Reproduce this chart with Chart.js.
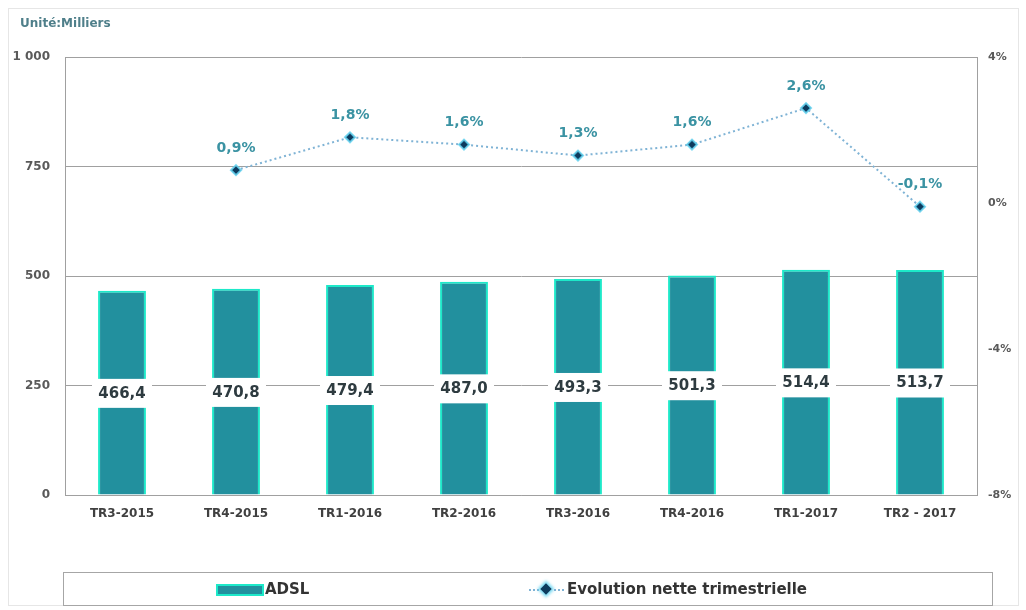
<!DOCTYPE html>
<html>
<head>
<meta charset="utf-8">
<script src="https://cdn.jsdelivr.net/npm/chart.js@4/dist/chart.umd.min.js"></script>
<style>
  html, body { margin: 0; padding: 0; background: #fff; }
  #wrap { position: relative; width: 1026px; height: 610px; }
  #frame { position: absolute; left: 8px; top: 8px; width: 1011px; height: 598px; border: 1px solid #e6e6e6; box-sizing: border-box; pointer-events: none; }
  #legend { position: absolute; left: 63px; top: 572px; width: 930px; height: 34px; border: 1px solid #a6a6a6; box-sizing: border-box; font-family: "DejaVu Sans", sans-serif; font-weight: bold; font-size: 15px; color: #333; }
  .item { position: absolute; top: 0; height: 32px; line-height: 32px; white-space: nowrap; }
  .sw { position: absolute; left: 152px; top: 11px; width: 44px; height: 8px; background: #22909e; border: 2px solid #1de9c9; }
  .mk { position: absolute; left: 478px; top: 12px; width: 8px; height: 8px; background: #0d3b5e; transform: rotate(45deg); box-shadow: 0 0 3px 2px rgba(100,210,240,0.85); }
  .ln { position: absolute; top: 16px; width: 10px; border-top: 2px dotted #7fb3d5; }
</style>
</head>
<body>
<div id="wrap">
  <canvas id="c" width="1026" height="610"></canvas>
  <div id="frame"></div>
  <div id="legend">
    <div class="sw"></div>
    <div class="item" style="left:201px">ADSL</div>
    <div class="ln" style="left:465px"></div>
    <div class="mk"></div>
    <div class="ln" style="left:490px"></div>
    <div class="item" style="left:503px">Evolution nette trimestrielle</div>
  </div>
</div>
<script>
const categories = ['TR3-2015', 'TR4-2015', 'TR1-2016', 'TR2-2016', 'TR3-2016', 'TR4-2016', 'TR1-2017', 'TR2 - 2017'];
const adslValues = [466.4, 470.8, 479.4, 487.0, 493.3, 501.3, 514.4, 513.7];
const evolutionValues = [null, 0.9, 1.8, 1.6, 1.3, 1.6, 2.6, -0.1];
const leftTickLabels = { 0: '0', 250: '250', 500: '500', 750: '750', 1000: '1 000' };
const rightTickLabels = { '-8': '-8%', '-4': '-4%', '0': '0%', '4': '4%' };
const titleText = 'Unité:Milliers';

const fmt1 = v => v.toFixed(1).replace('.', ',');

const labelPlugin = {
  id: 'valueLabels',
  afterDraw(chart) {
    const ctx = chart.ctx;
    ctx.save();
    ctx.font = 'bold 12px "DejaVu Sans"';
    ctx.fillStyle = '#4f7f8a';
    ctx.textAlign = 'left';
    ctx.textBaseline = 'middle';
    ctx.fillText(titleText, 20, 24);
    ctx.restore();
  },
  afterDatasetsDraw(chart) {
    const ctx = chart.ctx;
    const yScale = chart.scales.y;
    const barMeta = chart.getDatasetMeta(1);
    ctx.save();
    ctx.textAlign = 'center';
    ctx.textBaseline = 'middle';
    ctx.font = 'bold 15px "DejaVu Sans"';
    barMeta.data.forEach((el, i) => {
      const v = adslValues[i];
      const y = yScale.getPixelForValue(v / 2);
      ctx.fillStyle = '#ffffff';
      ctx.fillRect(el.x - 30, y - 14, 60, 29);
      ctx.fillStyle = '#2e3b40';
      ctx.fillText(fmt1(v), el.x, y + 1);
    });
    const lineMeta = chart.getDatasetMeta(0);
    ctx.font = 'bold 14px "DejaVu Sans"';
    ctx.fillStyle = '#3b93a3';
    lineMeta.data.forEach((el, i) => {
      const v = evolutionValues[i];
      if (v === null || v === undefined) return;
      ctx.fillText(fmt1(v) + '%', el.x, el.y - 22);
    });
    ctx.restore();
  }
};

new Chart(document.getElementById('c'), {
  data: {
    labels: categories,
    datasets: [
      {
        type: 'line',
        label: 'Evolution nette trimestrielle',
        data: evolutionValues,
        yAxisID: 'y2',
        order: 0,
        borderColor: '#7fb3d5',
        borderWidth: 2,
        borderDash: [2, 3],
        pointStyle: 'rectRot',
        pointRadius: 5,
        pointBackgroundColor: '#0d3b5e',
        pointBorderColor: 'rgba(100,210,240,0.85)',
        pointBorderWidth: 2,
        spanGaps: false,
        fill: false,
        tension: 0
      },
      {
        type: 'bar',
        label: 'ADSL',
        data: adslValues,
        yAxisID: 'y',
        order: 1,
        backgroundColor: '#22909e',
        borderColor: '#1de9c9',
        borderWidth: { top: 2, left: 2, right: 2, bottom: 0 },
        borderSkipped: 'bottom',
        categoryPercentage: 1,
        barPercentage: 0.42
      }
    ]
  },
  options: {
    responsive: false,
    animation: false,
    layout: { padding: { left: 4, right: 0, top: 57, bottom: 75 } },
    plugins: {
      legend: { display: false },
      tooltip: { enabled: false },
      title: { display: false }
    },
    scales: {
      x: {
        grid: { display: false, drawTicks: false },
        border: { display: true, color: '#a0a0a0' },
        ticks: { color: '#404040', padding: 12, font: { family: 'DejaVu Sans', size: 12, weight: 'bold' }, maxRotation: 0, autoSkip: false },
        afterFit(s) { s.height = 40; }
      },
      y: {
        position: 'left',
        min: 0, max: 1000,
        ticks: {
          stepSize: 250,
          padding: 15,
          color: '#5a5a5a',
          font: { family: 'DejaVu Sans', size: 12, weight: 'bold' },
          callback: v => leftTickLabels[v] !== undefined ? leftTickLabels[v] : ''
        },
        grid: { color: '#a0a0a0', lineWidth: 1, drawTicks: false },
        border: { display: true, color: '#a0a0a0' },
        afterFit(s) { s.width = 61; }
      },
      y2: {
        position: 'right',
        min: -8, max: 4,
        ticks: {
          stepSize: 4,
          padding: 11,
          color: '#5a5a5a',
          font: { family: 'DejaVu Sans', size: 11, weight: 'bold' },
          callback: v => rightTickLabels[String(v)] !== undefined ? rightTickLabels[String(v)] : ''
        },
        grid: { drawOnChartArea: false, drawTicks: false },
        border: { display: true, color: '#a0a0a0' },
        afterFit(s) { s.width = 49; }
      }
    }
  },
  plugins: [labelPlugin]
});
</script>
</body>
</html>
